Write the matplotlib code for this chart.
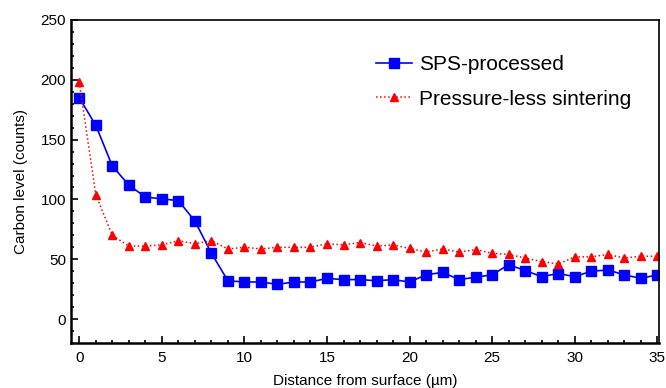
import numpy as np
import matplotlib
matplotlib.use('Agg')
from matplotlib import pyplot as plt
from matplotlib.ticker import MultipleLocator

plt.rcParams['font.family'] = ['Liberation Sans', 'DejaVu Sans']

# distance from surface (um)
distance = np.arange(0, 36)

# carbon level, SPS-processed sample
sps = [185, 162, 128, 112, 102, 100.5, 99, 82, 55, 32,
       31, 31, 29, 31, 31, 34, 33, 33, 32, 33,
       31, 37, 39, 33, 35, 37, 45.5, 40.5, 35.5, 38,
       35.5, 40, 41, 37, 34, 37]

# carbon level, pressure-less sintered sample
pls = [198, 104, 70, 61, 61, 62, 65.5, 63, 65.5, 58.6,
       60, 58.6, 60, 60, 60, 63, 62, 64, 61, 62,
       59, 56, 58.6, 56, 58, 55, 54, 51, 48, 46,
       52, 52, 54, 51, 52.5, 52.5]

labels = ['SPS-processed', 'Pressure-less sintering']

fig = plt.figure(figsize=(6.66, 3.88), dpi=100)
ax = fig.add_subplot(111)
fig.subplots_adjust(left=0.1066, right=0.9895, top=0.9485, bottom=0.116)

ax.plot(distance, sps, color='#0000ff', lw=1.2, marker='s', ms=6.5,
        label=labels[0])
ax.plot(distance, pls, color='#ff0000', lw=1.1, ls=':', marker='^', ms=6,
        label=labels[1])

ax.set_xlim(-0.5, 35.1)
ax.set_ylim(-20, 250)
ax.xaxis.set_major_locator(MultipleLocator(5))
ax.xaxis.set_minor_locator(MultipleLocator(1))
ax.yaxis.set_major_locator(MultipleLocator(50))
ax.yaxis.set_minor_locator(MultipleLocator(10))
ax.tick_params(which='both', direction='in', top=False, right=False,
               labelsize=11, width=1.2)
ax.tick_params(which='major', length=5)
ax.tick_params(which='minor', length=2.5)
ax.tick_params(axis='x', pad=6)
for side in ['left', 'bottom']:
    ax.spines[side].set_linewidth(1.8)
for side in ['top', 'right']:
    ax.spines[side].set_linewidth(1.2)

ax.set_xlabel('Distance from surface (µm)', fontsize=11, labelpad=6)
ax.set_ylabel('Carbon level (counts)', fontsize=11, labelpad=9)

ax.legend(loc='upper right', bbox_to_anchor=(0.985, 0.95), frameon=False,
          fontsize=15, handlelength=1.7, handletextpad=0.35, labelspacing=0.75)

fig.savefig('out.png', dpi=100)
